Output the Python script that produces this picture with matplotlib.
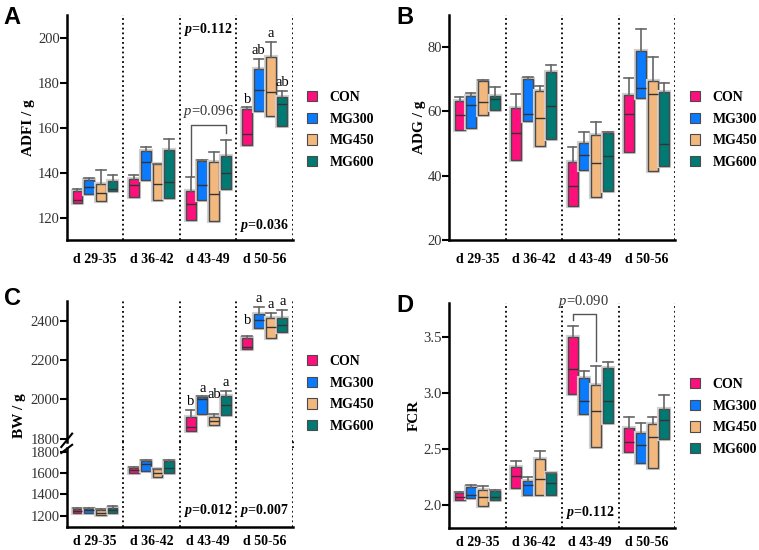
import matplotlib
matplotlib.use('Agg')
import matplotlib.pyplot as plt
import matplotlib.patheffects as pe
from matplotlib.patches import Patch

# ================== data ==================
periods = ['d 29-35', 'd 36-42', 'd 43-49', 'd 50-56']
groups = ['CON', 'MG300', 'MG450', 'MG600']
colors = ['#FF0F7B', '#0A7BFF', '#F2B87E', '#007A73']

# rows = periods, columns = groups (box bottom, median, box top, upper whisker)
adfi_q1 = [[126.9, 130.7, 127.5, 132.1], [129.3, 136.8, 128.0, 129.0],
           [119.4, 128.2, 118.7, 133.0], [152.4, 167.6, 165.5, 160.8]]
adfi_med = [[128.1, 134.0, 131.3, 132.8], [134.6, 144.8, 135.2, 136.0],
            [126.2, 134.7, 130.9, 139.9], [157.3, 176.7, 176.1, 170.4]]
adfi_q3 = [[132.1, 136.9, 135.3, 136.6], [137.5, 149.9, 144.1, 150.1],
           [131.9, 145.6, 144.9, 147.8], [168.5, 186.0, 191.2, 173.8]]
adfi_hi = [[133.0, 137.7, 141.3, 139.4], [139.3, 151.6, 144.2, 154.9],
           [138.1, 145.7, 149.2, 154.7], [169.1, 190.4, 198.1, 176.4]]
adfi_letters = [['', '', '', ''], ['', '', '', ''], ['', '', '', ''], ['b', 'ab', 'a', 'ab']]

adg_q1 = [[54.1, 54.8, 59.0, 60.3], [45.0, 57.0, 49.3, 51.3],
          [30.6, 41.8, 33.4, 35.2], [47.3, 64.3, 41.4, 43.0]]
adg_med = [[58.9, 62.1, 62.9, 63.8], [53.3, 59.2, 58.0, 61.7],
           [36.8, 46.3, 44.0, 46.2], [59.1, 67.3, 65.5, 49.9]]
adg_q3 = [[63.4, 64.8, 69.6, 64.8], [61.1, 70.2, 66.3, 72.2],
          [44.3, 50.2, 52.7, 53.2], [65.1, 78.8, 69.4, 66.1]]
adg_hi = [[64.4, 65.6, 69.8, 67.6], [65.4, 70.6, 67.9, 74.6],
          [49.0, 53.5, 56.8, 53.7], [70.4, 85.7, 76.8, 68.7]]

bw_q1 = [[1225, 1228, 1203, 1228], [1597, 1616, 1559, 1603],
         [1842, 1925, 1871, 1920], [2255, 2361, 2310, 2341]]
bw_med = [[1247, 1250, 1225, 1256], [1628, 1688, 1603, 1644],
          [1863, 2003, 1890, 1972], [2265, 2403, 2370, 2378]]
bw_q3 = [[1266, 1266, 1250, 1275], [1650, 1713, 1641, 1716],
         [1913, 2015, 1913, 2018], [2310, 2434, 2415, 2412]]
bw_hi = [[1272, 1272, 1259, 1288], [1659, 1722, 1641, 1725],
         [1947, 2016, 1927, 2043], [2324, 2468, 2437, 2454]]
bw_letters = [['', '', '', ''], ['', '', '', ''], ['b', 'a', 'ab', 'a'], ['b', 'a', 'a', 'a']]

fcr_q1 = [[2.045, 2.062, 1.994, 2.051], [2.158, 2.089, 2.089, 2.095],
          [2.992, 2.814, 2.517, 2.736], [2.473, 2.375, 2.328, 2.587]]
fcr_med = [[2.074, 2.092, 2.077, 2.074], [2.264, 2.184, 2.238, 2.199],
           [3.215, 2.93, 2.841, 2.93], [2.566, 2.539, 2.61, 2.756]]
fcr_q3 = [[2.107, 2.163, 2.14, 2.131], [2.342, 2.217, 2.413, 2.288],
          [3.5, 3.138, 3.072, 3.22], [2.691, 2.646, 2.727, 2.861]]
fcr_hi = [[2.122, 2.178, 2.17, 2.133], [2.392, 2.256, 2.481, 2.29],
          [3.598, 3.195, 3.242, 3.277], [2.786, 2.732, 2.786, 2.979]]

# ================== style ==================
plt.rcParams['font.family'] = ['Liberation Serif', 'DejaVu Serif']
plt.rcParams['mathtext.fontset'] = 'custom'
plt.rcParams['mathtext.it'] = 'Liberation Serif:italic:bold'
plt.rcParams['mathtext.sf'] = 'Liberation Serif:italic'
plt.rcParams['axes.linewidth'] = 1.8

offsets = [-0.31, -0.105, 0.105, 0.31]
box_w = 0.175


def draw_boxes(ax, q1, med, q3, hi, which):
    for i in which:
        stats = [dict(med=med[i][j], q1=q1[i][j], q3=q3[i][j],
                      whislo=q1[i][j], whishi=hi[i][j]) for j in range(4)]
        res = ax.bxp(stats, positions=[i + o for o in offsets], widths=box_w,
                     capwidths=box_w, patch_artist=True, showfliers=False,
                     manage_ticks=False,
                     boxprops=dict(edgecolor='#4a4a4a', linewidth=1.0),
                     medianprops=dict(color='#333333', linewidth=1.0),
                     whiskerprops=dict(color='#666666', linewidth=1.2),
                     capprops=dict(color='#666666', linewidth=1.2))
        for j, b in enumerate(res['boxes']):
            b.set_facecolor(colors[j])
            b.set_path_effects([pe.Stroke(linewidth=3, foreground='#d0d0d0'), pe.Normal()])
        for c in res['caps'][::2]:
            c.set_visible(False)


def style_axis(ax, ylim, yticks, show_x=True, xpad=9):
    ax.set_xlim(-0.5, 3.5)
    ax.set_ylim(*ylim)
    ax.set_yticks(yticks)
    ax.spines['top'].set_visible(False)
    ax.spines['right'].set_visible(False)
    ax.tick_params(axis='y', direction='out', length=5, width=1.5, pad=0,
                   labelsize=10.5, labelcolor='#333333')
    ax.tick_params(axis='x', length=0, pad=xpad)
    if show_x:
        ax.set_xticks(range(4))
        ax.set_xticklabels(periods, fontsize=10, fontweight='bold')
    else:
        ax.set_xticks([])
    for x in [0.5, 1.5, 2.5, 3.5]:
        ax.axvline(x, color='black', linestyle=':', linewidth=1.3)


def add_letters(ax, q_hi, letters, extra=None):
    extra = extra or {}
    for i in range(4):
        for j in range(4):
            if letters[i][j]:
                ax.annotate(letters[i][j], (i + offsets[j], q_hi[i][j]),
                            xytext=(0, 6 + extra.get((i, j), 0)), textcoords='offset points',
                            ha='center', va='center', fontsize=10.5, annotation_clip=False)


def add_legend(fig, x, y):
    handles = [Patch(facecolor=c, edgecolor='#4a4a4a', linewidth=0.8) for c in colors]
    fig.legend(handles, groups, loc='center left', bbox_to_anchor=(x, y), frameon=False,
               prop=dict(weight='bold', size=10), handlelength=0.75, handleheight=0.75,
               handletextpad=0.9, labelspacing=0.62, borderpad=0, borderaxespad=0)


fig = plt.figure(figsize=(7.59, 5.5), dpi=100)

# ---------- A ----------
axA = fig.add_axes([0.0879, 0.5636, 0.2982, 0.4091])
draw_boxes(axA, adfi_q1, adfi_med, adfi_q3, adfi_hi, range(4))
style_axis(axA, (110.4, 210), [120, 140, 160, 180, 200])
axA.set_ylabel('ADFI / g', fontsize=11, fontweight='bold', labelpad=2)
add_letters(axA, adfi_hi, adfi_letters)
axA.text(2, 203.7, r'$\mathit{p}$=0.112', ha='center', va='center', fontsize=10, fontweight='bold')
axA.text(3, 117, r'$\mathit{p}$=0.036', ha='center', va='center', fontsize=10, fontweight='bold')
xl, xr = 2 + offsets[0], 2 + offsets[3]
axA.plot([xl, xl, xr, xr], [adfi_hi[2][0] + 0.6, 161.5, 161.5, adfi_hi[2][3] + 3],
         color='#555555', linewidth=1.0)
axA.text(2, 167.5, r'$\mathsf{p}$=0.096', ha='center', va='center', fontsize=10.5, color='#333333')

# ---------- B ----------
axB = fig.add_axes([0.5916, 0.5636, 0.2978, 0.4091])
draw_boxes(axB, adg_q1, adg_med, adg_q3, adg_hi, range(4))
style_axis(axB, (20, 90), [20, 40, 60, 80])
axB.set_ylabel('ADG / g', fontsize=11, fontweight='bold', labelpad=1)

# ---------- C (broken axis) ----------
axC1 = fig.add_axes([0.0879, 0.1969, 0.2982, 0.2564])
axC2 = fig.add_axes([0.0879, 0.0424, 0.2982, 0.1425])
draw_boxes(axC1, bw_q1, bw_med, bw_q3, bw_hi, [2, 3])
draw_boxes(axC2, bw_q1, bw_med, bw_q3, bw_hi, [0, 1])
style_axis(axC1, (1786, 2501), [1800, 2000, 2200, 2400], show_x=False)
style_axis(axC2, (1097, 1831), [1200, 1400, 1600, 1800], xpad=6)
axC1.spines['bottom'].set_visible(False)
for x in [0.5, 1.5, 2.5, 3.5]:
    axC2.axvline(x, ymin=1, ymax=1.1, color='black', linestyle=':', linewidth=1.3, clip_on=False)
# break marks
d = 0.015
axC1.plot([-d * 1.6, d * 1.6], [-d * 2.5, d * 2.5 + 0.02], transform=axC1.transAxes,
          color='black', linewidth=1.5, clip_on=False)
axC2.plot([-d * 1.6, d * 1.6], [1 - d * 4, 1 + d * 3], transform=axC2.transAxes,
          color='black', linewidth=1.5, clip_on=False)
fig.text(0.026, 0.245, 'BW / g', rotation=90, ha='center', va='center',
         fontsize=11, fontweight='bold')
add_letters(axC1, bw_hi, bw_letters, extra={(3, 0): 5, (2, 2): 8})
axC2.text(2, 1250, r'$\mathit{p}$=0.012', ha='center', va='center', fontsize=10, fontweight='bold')
axC2.text(3, 1250, r'$\mathit{p}$=0.007', ha='center', va='center', fontsize=10, fontweight='bold')

# ---------- D ----------
axD = fig.add_axes([0.5916, 0.0405, 0.2978, 0.408])
draw_boxes(axD, fcr_q1, fcr_med, fcr_q3, fcr_hi, range(4))
style_axis(axD, (1.8, 3.8), [2.0, 2.5, 3.0, 3.5], xpad=6)
axD.set_yticklabels(['2.0', '2.5', '3.0', '3.5'])
axD.set_ylabel('FCR', fontsize=11, fontweight='bold', labelpad=2)
axD.text(2, 1.94, r'$\mathit{p}$=0.112', ha='center', va='center', fontsize=10, fontweight='bold')
xl, xr = 2 + offsets[0], 2 + offsets[2]
axD.plot([xl, xl, xr, xr], [fcr_hi[2][0] + 0.05, 3.705, 3.705, fcr_hi[2][2] + 0.04],
         color='#555555', linewidth=1.0, clip_on=False)
axD.text(1.88, 3.82, r'$\mathsf{p}$=0.090', ha='center', va='center', fontsize=10.5,
         color='#333333', clip_on=False)

# ---------- legends & panel letters ----------
add_legend(fig, 0.404, 1 - 130 / 550)
add_legend(fig, 0.909, 1 - 130 / 550)
add_legend(fig, 0.404, 1 - 394 / 550)
add_legend(fig, 0.909, 1 - 417 / 550)

for lab, x, y in [('A', 0.005, 0.99), ('B', 0.522, 0.99), ('C', 0.005, 0.478), ('D', 0.522, 0.466)]:
    fig.text(x, y, lab, fontsize=17, fontweight='bold', family='Liberation Sans', va='top')

fig.savefig('out.png', dpi=100)
